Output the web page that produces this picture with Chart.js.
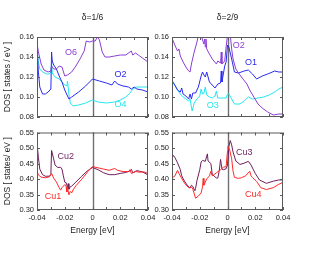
<!DOCTYPE html>
<html>
<head>
<meta charset="utf-8">
<script src="https://cdn.jsdelivr.net/npm/chart.js@4.4.1/dist/chart.umd.min.js"></script>
<style>
  html, body { margin: 0; padding: 0; background: #fff; }
  #page { position: relative; width: 329px; height: 255px; overflow: hidden; }
  canvas { position: absolute; }
</style>
</head>
<body>
<div id="page">
  <canvas id="topLeft" width="165" height="125" style="left:0;top:0"></canvas>
  <canvas id="topRight" width="179" height="125" style="left:150px;top:0"></canvas>
  <canvas id="botLeft" width="165" height="130" style="left:0;top:125px"></canvas>
  <canvas id="botRight" width="179" height="130" style="left:150px;top:125px"></canvas>
</div>
<script>
// axis ranges and tick labels
const energyMin = -0.04, energyMax = 0.04;
const energyTicks = [-0.04, -0.02, 0, 0.02, 0.04];
const energyMinorTicks = [-0.04, -0.03, -0.02, -0.01, 0, 0.01, 0.02, 0.03, 0.04];
const oxygenTicks = [0.08, 0.10, 0.12, 0.14, 0.16];
const copperTicks = [0.30, 0.35, 0.40, 0.45, 0.50, 0.55];

// delta = 1/6, oxygen sites  [energy (eV), DOS]
const o6 = [[-0.04,0.154],[-0.039,0.145],[-0.037,0.133],[-0.035,0.127],[-0.032,0.125],[-0.030,0.126],
  [-0.0295,0.131],[-0.028,0.128],[-0.026,0.128],[-0.024,0.131],[-0.022,0.130],[-0.020,0.121],[-0.018,0.122],
  [-0.015,0.125],[-0.012,0.131],[-0.009,0.138],[-0.006,0.146],[-0.0045,0.156],[-0.002,0.155],[0,0.156],
  [0.002,0.156],[0.0035,0.160],[0.005,0.157],[0.007,0.145],[0.009,0.140],[0.012,0.140],[0.016,0.141],
  [0.020,0.142],[0.024,0.142],[0.027,0.145],[0.028,0.146],[0.029,0.142],[0.031,0.144],[0.033,0.142],
  [0.036,0.139],[0.04,0.135]];
const o2a = [[-0.04,0.152],[-0.039,0.125],[-0.038,0.110],[-0.036,0.103],[-0.034,0.103],[-0.032,0.105],
  [-0.030,0.108],[-0.0295,0.145],[-0.029,0.136],[-0.028,0.132],[-0.026,0.128],[-0.024,0.121],[-0.022,0.115],
  [-0.020,0.107],[-0.017,0.098],[-0.015,0.100],[-0.010,0.105],[-0.005,0.111],[0,0.118],[0.005,0.116],
  [0.010,0.114],[0.014,0.112],[0.016,0.116],[0.018,0.113],[0.022,0.111],[0.026,0.110],[0.028,0.108],
  [0.030,0.110],[0.032,0.108],[0.036,0.107],[0.04,0.105]];
const o4 = [[-0.04,0.149],[-0.039,0.135],[-0.038,0.128],[-0.036,0.125],[-0.033,0.123],[-0.031,0.123],
  [-0.030,0.125],[-0.0295,0.134],[-0.029,0.124],[-0.027,0.120],[-0.024,0.118],[-0.022,0.115],[-0.020,0.112],
  [-0.0185,0.111],[-0.018,0.116],[-0.017,0.103],[-0.016,0.094],[-0.014,0.091],[-0.010,0.092],[-0.005,0.094],
  [0,0.097],[0.004,0.095],[0.010,0.094],[0.016,0.095],[0.020,0.097],[0.024,0.100],[0.027,0.104],
  [0.029,0.108],[0.032,0.110],[0.036,0.110],[0.04,0.110]];

// delta = 2/9, oxygen sites
const o2b = [[-0.04,0.159],[-0.038,0.152],[-0.036,0.146],[-0.035,0.148],[-0.034,0.141],[-0.032,0.135],
  [-0.030,0.130],[-0.028,0.126],[-0.027,0.125],[-0.026,0.133],[-0.024,0.145],[-0.022,0.155],[-0.021,0.162],
  [-0.019,0.163],[-0.018,0.157],[-0.017,0.153],[-0.0165,0.158],[-0.016,0.150],[-0.0155,0.158],[-0.015,0.148],
  [-0.013,0.143],[-0.011,0.138],[-0.008,0.133],[-0.007,0.136],[-0.005,0.134],[-0.0045,0.145],[-0.004,0.133],
  [-0.002,0.136],[-0.001,0.150],[0,0.162],[0.002,0.162],[0.003,0.148],[0.004,0.138],[0.006,0.128],
  [0.010,0.120],[0.014,0.113],[0.016,0.107],[0.019,0.100],[0.022,0.093],[0.025,0.089],[0.029,0.085],
  [0.033,0.082],[0.037,0.083],[0.04,0.083]];
const o1 = [[-0.04,0.116],[-0.038,0.112],[-0.036,0.107],[-0.034,0.105],[-0.033,0.109],[-0.032,0.103],
  [-0.030,0.101],[-0.028,0.098],[-0.027,0.103],[-0.026,0.098],[-0.025,0.104],[-0.023,0.104],[-0.021,0.110],
  [-0.019,0.121],[-0.018,0.125],[-0.017,0.122],[-0.016,0.120],[-0.015,0.125],[-0.013,0.115],[-0.011,0.112],
  [-0.009,0.109],[-0.007,0.113],[-0.005,0.114],[-0.0045,0.126],[-0.004,0.115],[-0.002,0.131],[-0.001,0.135],
  [0,0.152],[0.001,0.150],[0.003,0.138],[0.005,0.125],[0.008,0.124],[0.012,0.126],[0.015,0.127],
  [0.018,0.123],[0.021,0.118],[0.025,0.121],[0.029,0.123],[0.034,0.126],[0.037,0.125],[0.04,0.125]];
const o3 = [[-0.04,0.117],[-0.038,0.112],[-0.036,0.107],[-0.034,0.103],[-0.032,0.100],[-0.030,0.098],
  [-0.028,0.096],[-0.027,0.098],[-0.0255,0.086],[-0.024,0.094],[-0.022,0.098],[-0.020,0.101],[-0.019,0.108],
  [-0.018,0.103],[-0.017,0.104],[-0.016,0.110],[-0.015,0.102],[-0.013,0.100],[-0.011,0.099],[-0.009,0.101],
  [-0.008,0.106],[-0.007,0.099],[-0.005,0.099],[-0.003,0.099],[-0.001,0.099],[0,0.103],[0.001,0.103],
  [0.003,0.098],[0.005,0.093],[0.009,0.093],[0.012,0.096],[0.015,0.100],[0.018,0.098],[0.022,0.099],
  [0.026,0.100],[0.030,0.102],[0.034,0.105],[0.037,0.108],[0.04,0.110]];

// delta = 1/6, copper sites
const cu1 = [[-0.04,0.425],[-0.039,0.413],[-0.037,0.406],[-0.034,0.404],[-0.031,0.407],[-0.0295,0.418],
  [-0.028,0.403],[-0.026,0.390],[-0.024,0.372],[-0.023,0.364],[-0.022,0.372],[-0.020,0.382],[-0.019,0.375],
  [-0.0185,0.358],[-0.018,0.372],[-0.017,0.349],[-0.016,0.360],[-0.015,0.355],[-0.014,0.365],[-0.012,0.378],
  [-0.008,0.398],[-0.004,0.420],[-0.002,0.432],[0,0.440],[0.004,0.436],[0.008,0.432],[0.012,0.428],
  [0.016,0.434],[0.018,0.428],[0.022,0.424],[0.026,0.424],[0.027,0.430],[0.028,0.418],[0.031,0.424],
  [0.034,0.422],[0.037,0.423],[0.04,0.418]];
const cu2 = [[-0.04,0.515],[-0.039,0.470],[-0.038,0.432],[-0.036,0.414],[-0.034,0.409],[-0.031,0.409],
  [-0.030,0.415],[-0.0295,0.492],[-0.028,0.465],[-0.027,0.445],[-0.025,0.437],[-0.023,0.438],[-0.022,0.432],
  [-0.021,0.410],[-0.020,0.390],[-0.019,0.388],[-0.018,0.373],[-0.0175,0.385],[-0.017,0.367],[-0.016,0.375],
  [-0.015,0.377],[-0.012,0.390],[-0.008,0.408],[-0.004,0.425],[0,0.437],[0.004,0.430],[0.008,0.420],
  [0.012,0.414],[0.016,0.414],[0.020,0.418],[0.024,0.421],[0.027,0.426],[0.028,0.431],[0.029,0.420],
  [0.032,0.427],[0.036,0.423],[0.04,0.413]];

// delta = 2/9, copper sites
const cu3 = [[-0.04,0.466],[-0.039,0.476],[-0.038,0.470],[-0.036,0.452],[-0.034,0.430],[-0.033,0.410],
  [-0.031,0.393],[-0.029,0.380],[-0.027,0.371],[-0.026,0.380],[-0.025,0.376],[-0.0235,0.362],[-0.023,0.370],
  [-0.022,0.395],[-0.020,0.430],[-0.019,0.455],[-0.018,0.460],[-0.016,0.457],[-0.0145,0.481],[-0.014,0.458],
  [-0.012,0.450],[-0.011,0.415],[-0.008,0.403],[-0.007,0.403],[-0.006,0.425],[-0.005,0.463],[-0.004,0.432],
  [-0.003,0.430],[-0.001,0.433],[0,0.445],[0.001,0.505],[0.002,0.524],[0.003,0.510],[0.004,0.487],
  [0.006,0.458],[0.009,0.447],[0.012,0.451],[0.015,0.457],[0.017,0.445],[0.020,0.418],[0.023,0.397],
  [0.028,0.386],[0.033,0.393],[0.037,0.397],[0.04,0.397]];
const cu4 = [[-0.04,0.404],[-0.038,0.409],[-0.036,0.428],[-0.035,0.418],[-0.034,0.410],[-0.032,0.394],
  [-0.030,0.381],[-0.028,0.372],[-0.027,0.371],[-0.026,0.374],[-0.025,0.368],[-0.0235,0.345],[-0.023,0.338],
  [-0.021,0.345],[-0.019,0.355],[-0.018,0.375],[-0.0175,0.402],[-0.017,0.380],[-0.015,0.400],[-0.013,0.410],
  [-0.012,0.425],[-0.011,0.410],[-0.008,0.420],[-0.005,0.430],[-0.003,0.438],[-0.001,0.440],[0,0.490],
  [0.0003,0.505],[0.0015,0.495],[0.003,0.465],[0.004,0.425],[0.005,0.405],[0.008,0.402],[0.010,0.404],
  [0.013,0.410],[0.016,0.425],[0.017,0.410],[0.018,0.405],[0.021,0.392],[0.024,0.372],[0.028,0.366],
  [0.033,0.372],[0.037,0.383],[0.04,0.389]];

const FONT = '"Liberation Sans", Arial, Helvetica, sans-serif';
const INK = '#222';
const PURPLE = '#8b3fd6', BLUE = '#2a2af0', CYAN = '#22e8f2';
const PLUM = '#6e1f5e', RED = '#ff2a2a';

// boxed frame with inward ticks on all four sides, plus the gray zero-energy line
const frameTicks = {
  id: 'frameTicks',
  beforeDatasetsDraw(chart) {
    const { ctx, chartArea: a, scales: { x } } = chart;
    const zx = Math.round(x.getPixelForValue(0)) + 0.5;
    ctx.save();
    ctx.strokeStyle = '#707070';
    ctx.lineWidth = 1.4;
    ctx.beginPath();
    ctx.moveTo(zx, a.top);
    ctx.lineTo(zx, a.bottom);
    ctx.stroke();
    ctx.restore();
  },
  afterDraw(chart) {
    const { ctx, chartArea: a, scales: { x, y } } = chart;
    ctx.save();
    ctx.strokeStyle = '#5a5a5a';
    ctx.lineWidth = 1;
    ctx.strokeRect(a.left + 0.5, a.top + 0.5, a.width - 1, a.height - 1);
    ctx.beginPath();
    x.ticks.forEach(t => {
      const px = Math.round(x.getPixelForValue(t.value)) + 0.5;
      ctx.moveTo(px, a.bottom); ctx.lineTo(px, a.bottom - 3);
      ctx.moveTo(px, a.top); ctx.lineTo(px, a.top + 3);
    });
    y.ticks.forEach(t => {
      const py = Math.round(y.getPixelForValue(t.value)) + 0.5;
      ctx.moveTo(a.left, py); ctx.lineTo(a.left + 3, py);
      ctx.moveTo(a.right, py); ctx.lineTo(a.right - 3, py);
    });
    ctx.stroke();
    ctx.restore();
  }
};

// site names written next to their curves
const seriesLabels = {
  id: 'seriesLabels',
  afterDatasetsDraw(chart) {
    const { ctx, scales: { x, y } } = chart;
    ctx.save();
    ctx.font = '9px ' + FONT;
    ctx.textAlign = 'center';
    ctx.textBaseline = 'middle';
    chart.data.datasets.forEach(ds => {
      ctx.fillStyle = ds.borderColor;
      ctx.fillText(ds.label, x.getPixelForValue(ds.labelAt[0]), y.getPixelForValue(ds.labelAt[1]));
    });
    ctx.restore();
  }
};

function fmtEnergy(v) {
  const n = Math.round(v * 100);
  if (!energyTicks.some(t => Math.round(t * 100) === n)) return '';
  return n === 0 ? '0' : (n / 100).toFixed(2);
}

function panel(id, cfg) {
  return new Chart(document.getElementById(id), {
    type: 'line',
    data: {
      datasets: cfg.series.map(s => ({
        label: s.name,
        data: s.points.map(([x, y]) => ({ x, y })),
        borderColor: s.color,
        borderWidth: 1,
        pointRadius: 0,
        tension: 0,
        fill: false,
        labelAt: s.at
      }))
    },
    options: {
      responsive: false,
      animation: false,
      events: [],
      layout: { padding: cfg.padding },
      plugins: {
        legend: { display: false },
        tooltip: { enabled: false },
        title: {
          display: !!cfg.title,
          text: cfg.title || '',
          fullSize: false,
          color: INK,
          font: { family: FONT, size: 8.5, weight: 'normal' },
          padding: { top: 13, bottom: 13.8 }
        }
      },
      scales: {
        x: {
          type: 'linear',
          min: energyMin,
          max: energyMax,
          afterBuildTicks: s => { s.ticks = energyMinorTicks.map(v => ({ value: v })); },
          afterFit: s => { s.height = cfg.xHeight; },
          grid: { display: false, drawTicks: false },
          border: { display: false },
          ticks: {
            display: cfg.showEnergy,
            autoSkip: false,
            maxRotation: 0,
            padding: 3.5,
            color: INK,
            font: { family: FONT, size: 7.5 },
            callback: v => fmtEnergy(v)
          },
          title: {
            display: cfg.showEnergy,
            text: 'Energy [eV]',
            color: INK,
            font: { family: FONT, size: 8.5 },
            padding: { top: 0, bottom: 19 }
          }
        },
        y: {
          type: 'linear',
          min: cfg.yTicks[0],
          max: cfg.yTicks[cfg.yTicks.length - 1],
          afterBuildTicks: s => { s.ticks = cfg.yTicks.map(v => ({ value: v })); },
          afterFit: s => { s.width = cfg.yWidth; },
          grid: { display: false, drawTicks: false },
          border: { display: false },
          ticks: {
            padding: 3,
            color: INK,
            font: { family: FONT, size: 7.5 },
            callback: v => v.toFixed(2)
          },
          title: {
            display: !!cfg.yTitle,
            text: cfg.yTitle || '',
            color: INK,
            font: { family: FONT, size: 8.5 },
            padding: { top: 3, bottom: 0 }
          }
        }
      }
    },
    plugins: [frameTicks, seriesLabels]
  });
}

panel('topLeft', {
  title: 'δ=1/6', yTitle: 'DOS [ states / eV ]', yTicks: oxygenTicks,
  padding: { left: 0, top: 0, right: 17, bottom: 8 }, yWidth: 37, xHeight: 0, showEnergy: false,
  series: [
    { name: 'O6', points: o6, color: PURPLE, at: [-0.0155, 0.1443] },
    { name: 'O2', points: o2a, color: BLUE, at: [0.0202, 0.1223] },
    { name: 'O4', points: o4, color: CYAN, at: [0.0202, 0.0923] }
  ]
});

panel('topRight', {
  title: 'δ=2/9', yTicks: oxygenTicks,
  padding: { left: 0, top: 0, right: 46, bottom: 8 }, yWidth: 22, xHeight: 0, showEnergy: false,
  series: [
    { name: 'O2', points: o2b, color: PURPLE, at: [0.0081, 0.151] },
    { name: 'O1', points: o1, color: BLUE, at: [0.0169, 0.1343] },
    { name: 'O3', points: o3, color: CYAN, at: [-0.0107, 0.091] }
  ]
});

panel('botLeft', {
  yTitle: 'DOS [ states/ eV ]', yTicks: copperTicks,
  padding: { left: 0, top: 6, right: 17, bottom: 0 }, yWidth: 37, xHeight: 45, showEnergy: true,
  series: [
    { name: 'Cu1', points: cu1, color: RED, at: [-0.0284, 0.342] },
    { name: 'Cu2', points: cu2, color: PLUM, at: [-0.0193, 0.471] }
  ]
});

panel('botRight', {
  yTicks: copperTicks,
  padding: { left: 0, top: 6, right: 46, bottom: 0 }, yWidth: 22, xHeight: 45, showEnergy: true,
  series: [
    { name: 'Cu4', points: cu4, color: RED, at: [0.0186, 0.35] },
    { name: 'Cu3', points: cu3, color: PLUM, at: [0.0121, 0.487] }
  ]
});
</script>
</body>
</html>
